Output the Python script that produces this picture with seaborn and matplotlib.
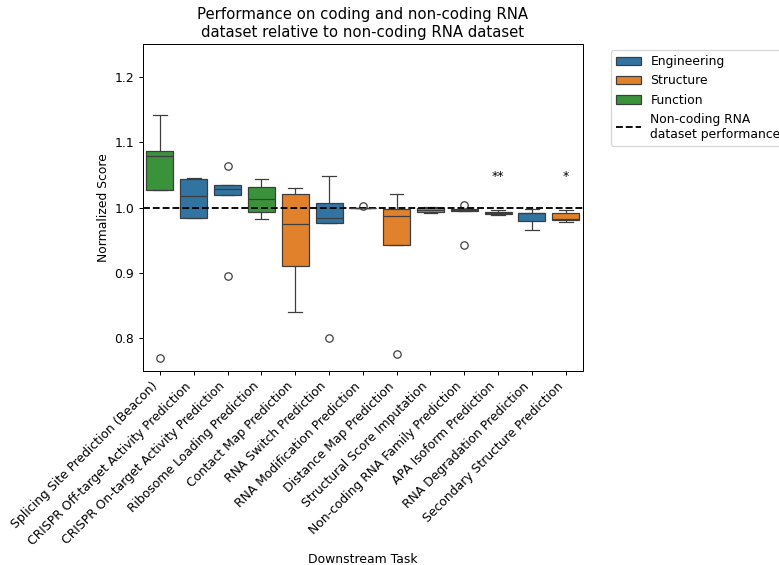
import matplotlib
matplotlib.use("Agg")
import matplotlib.pyplot as plt
import seaborn as sns
import pandas as pd

tasks = [
    "Splicing Site Prediction (Beacon)",
    "CRISPR Off-target Activity Prediction",
    "CRISPR On-target Activity Prediction",
    "Ribosome Loading Prediction",
    "Contact Map Prediction",
    "RNA Switch Prediction",
    "RNA Modification Prediction",
    "Distance Map Prediction",
    "Structural Score Imputation",
    "Non-coding RNA Family Prediction",
    "APA Isoform Prediction",
    "RNA Degradation Prediction",
    "Secondary Structure Prediction",
]

categories = [
    "Function", "Engineering", "Engineering", "Function", "Structure",
    "Engineering", "Function", "Structure", "Structure", "Function",
    "Function", "Engineering", "Structure",
]

category_order = ["Engineering", "Structure", "Function"]

# Normalized scores per task (one value per model)
splicing = [0.770, 1.0275, 1.079, 1.086, 1.1415]
crispr_off = [0.9837, 0.9837, 1.0178, 1.0432, 1.0448]
crispr_on = [0.8947, 1.0194, 1.0285, 1.0346, 1.063]
ribosome = [0.9817, 0.9939, 1.0127, 1.0316, 1.0432]
contact_map = [0.840, 0.9104, 0.975, 1.0203, 1.030]
rna_switch = [0.8005, 0.976, 0.9837, 1.0066, 1.0478]
modification = [1.0, 1.0, 1.0, 1.0, 1.0025]
distance_map = [0.7766, 0.943, 0.9867, 0.998, 1.0203]
score_imputation = [0.991, 0.993, 0.9965, 0.9995, 1.0005]
ncrna_family = [0.943, 0.995, 0.9965, 0.998, 1.0046]
apa_isoform = [0.989, 0.990, 0.9915, 0.993, 0.9965]
degradation = [0.966, 0.979, 0.991, 0.992, 0.997]
secondary = [0.978, 0.981, 0.983, 0.991, 0.9965]

scores = [
    splicing, crispr_off, crispr_on, ribosome, contact_map, rna_switch,
    modification, distance_map, score_imputation, ncrna_family,
    apa_isoform, degradation, secondary,
]

# Significance markers: (task, label)
significance = [("APA Isoform Prediction", "**"),
                ("Secondary Structure Prediction", "*")]
marker_y = 1.048

rows = []
for task, cat, vals in zip(tasks, categories, scores):
    for v in vals:
        rows.append({"Downstream Task": task, "Category": cat,
                     "Normalized Score": v})
df = pd.DataFrame(rows)

DPI = 89
fig, ax = plt.subplots(figsize=(779 / DPI, 565 / DPI), dpi=DPI)
fig.subplots_adjust(left=0.1836, right=0.748, top=0.922, bottom=0.3434)

sns.boxplot(data=df, x="Downstream Task", y="Normalized Score",
            hue="Category", hue_order=category_order, order=tasks,
            dodge=False, width=0.8, ax=ax)

ax.axhline(1.0, color="black", linestyle="--", linewidth=1.5,
           label="Non-coding RNA\ndataset performance")

for task, label in significance:
    ax.text(tasks.index(task), marker_y, label, ha="center", va="center",
            fontsize=10)

ax.set_ylim(0.75, 1.25)
ax.set_title("Performance on coding and non-coding RNA\n"
             "dataset relative to non-coding RNA dataset")
plt.setp(ax.get_xticklabels(), rotation=45, ha="right")

handles, labels = ax.get_legend_handles_labels()
ax.legend(handles, labels, bbox_to_anchor=(1.05, 1), loc="upper left")

fig.savefig("out.png", dpi=DPI)
